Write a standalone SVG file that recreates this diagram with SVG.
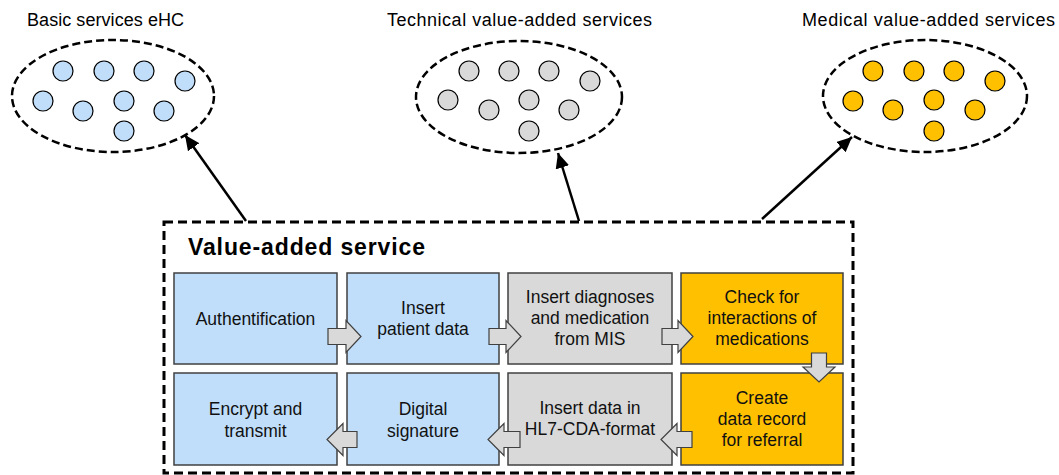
<svg xmlns="http://www.w3.org/2000/svg" width="1059" height="475" viewBox="0 0 1059 475">
<style>
.ttl{font-family:"Liberation Sans",Arial,sans-serif;font-size:18px;fill:#000}
.hd{font-family:"Liberation Sans",Arial,sans-serif;font-size:23px;font-weight:bold;fill:#000}
.bt{font-family:"Liberation Sans",Arial,sans-serif;font-size:17.5px;fill:#111;text-anchor:middle}
.ell{fill:none;stroke:#000;stroke-width:2.5;stroke-dasharray:8 4}
.blue{fill:#C0DEFA}
.gray{fill:#D9D9D9}
.orng{fill:#FFC000}
.dot{stroke:#000;stroke-width:1.2}
.box{stroke:#404040;stroke-width:1.5}
.blk{fill:#D9D9D9;stroke:#404040;stroke-width:1.2}
.con{stroke:#000;stroke-width:2.5;fill:none}
</style>
<defs>
<marker id="ah" markerUnits="userSpaceOnUse" markerWidth="16" markerHeight="14" refX="15" refY="7" orient="auto">
<path d="M0,0 L15,7 L0,14 z" fill="#000"/>
</marker>
</defs>

<g id="basic-services">
<text class="ttl" x="27" y="26" textLength="157">Basic services eHC</text>
<ellipse class="ell" cx="113" cy="96" rx="101" ry="56"/>
<g class="blue dot">
<circle cx="63" cy="71" r="10"/><circle cx="104" cy="71" r="10"/><circle cx="144" cy="71" r="10"/><circle cx="185" cy="81" r="10"/>
<circle cx="43" cy="101" r="10"/><circle cx="83" cy="111" r="10"/><circle cx="124" cy="101" r="10"/><circle cx="164" cy="111" r="10"/>
<circle cx="124" cy="131" r="10"/>
</g>
</g>

<g id="technical-services">
<text class="ttl" x="387" y="26" textLength="265">Technical value-added services</text>
<ellipse class="ell" cx="519" cy="97" rx="103" ry="56"/>
<g class="gray dot">
<circle cx="469" cy="71" r="10"/><circle cx="509" cy="71" r="10"/><circle cx="549" cy="71" r="10"/><circle cx="590" cy="81" r="10"/>
<circle cx="448" cy="100" r="10"/><circle cx="489" cy="110" r="10"/><circle cx="529" cy="100" r="10"/><circle cx="569" cy="110" r="10"/>
<circle cx="529" cy="131" r="10"/>
</g>
</g>

<g id="medical-services">
<text class="ttl" x="802" y="26" textLength="253">Medical value-added services</text>
<ellipse class="ell" cx="925" cy="96" rx="102" ry="56"/>
<g class="orng dot">
<circle cx="873" cy="71" r="10"/><circle cx="914" cy="71" r="10"/><circle cx="954" cy="71" r="10"/><circle cx="995" cy="81" r="10"/>
<circle cx="853" cy="101" r="10"/><circle cx="893" cy="110" r="10"/><circle cx="934" cy="100" r="10"/><circle cx="975" cy="110" r="10"/>
<circle cx="934" cy="131" r="10"/>
</g>
</g>

<g id="connectors">
<line class="con" x1="246" y1="221" x2="185" y2="135" marker-end="url(#ah)"/>
<line class="con" x1="579" y1="221" x2="558" y2="153" marker-end="url(#ah)"/>
<line class="con" x1="762" y1="219" x2="852" y2="137" marker-end="url(#ah)"/>
</g>

<g id="value-added-service">
<rect x="164" y="222" width="689" height="251" fill="none" stroke="#000" stroke-width="3" stroke-dasharray="9 5"/>
<text class="hd" x="188" y="255" textLength="237">Value-added service</text>
</g>

<g id="authentification">
<rect class="box blue" x="174" y="273" width="163" height="91"/>
<text class="bt" x="255.5" y="325">Authentification</text>
</g>
<g id="insert-patient-data">
<rect class="box blue" x="347" y="273" width="152" height="91"/>
<text class="bt" x="423" y="314">Insert</text>
<text class="bt" x="423" y="335">patient data</text>
</g>
<g id="insert-diagnoses">
<rect class="box gray" x="508" y="273" width="164" height="91"/>
<text class="bt" x="590" y="303">Insert diagnoses</text>
<text class="bt" x="590" y="324">and medication</text>
<text class="bt" x="590" y="345">from MIS</text>
</g>
<g id="check-interactions">
<rect class="box orng" x="681" y="273" width="162" height="91"/>
<text class="bt" x="762" y="303">Check for</text>
<text class="bt" x="762" y="324">interactions of</text>
<text class="bt" x="762" y="345">medications</text>
</g>
<g id="encrypt-transmit">
<rect class="box blue" x="174" y="373" width="163" height="92"/>
<text class="bt" x="255.5" y="415">Encrypt and</text>
<text class="bt" x="255.5" y="437">transmit</text>
</g>
<g id="digital-signature">
<rect class="box blue" x="347" y="373" width="152" height="92"/>
<text class="bt" x="423" y="415">Digital</text>
<text class="bt" x="423" y="437">signature</text>
</g>
<g id="insert-hl7">
<rect class="box gray" x="508" y="373" width="164" height="92"/>
<text class="bt" x="590" y="414">Insert data in</text>
<text class="bt" x="590" y="435">HL7-CDA-format</text>
</g>
<g id="create-record">
<rect class="box orng" x="681" y="373" width="162" height="92"/>
<text class="bt" x="762" y="404">Create</text>
<text class="bt" x="762" y="425">data record</text>
<text class="bt" x="762" y="446">for referral</text>
</g>

<g id="flow-arrows">
<path class="blk" d="M328,328.5 H346 V320.5 L361,336.5 L346,352.5 V344.5 H328 Z"/>
<path class="blk" d="M489,328.5 H506 V320.5 L521,336.5 L506,352.5 V344.5 H489 Z"/>
<path class="blk" d="M662,328.5 H678 V320.5 L693,336.5 L678,352.5 V344.5 H662 Z"/>
<path class="blk" d="M811.5,353 H826.5 V367 H835 L819,382 L803,367 H811.5 Z"/>
<path class="blk" d="M692,431.5 H677 V423.5 L661,439.5 L677,455.5 V447.5 H692 Z"/>
<path class="blk" d="M520,431.5 H504 V423.5 L488,439.5 L504,455.5 V447.5 H520 Z"/>
<path class="blk" d="M357,431.5 H343 V423.5 L327,439.5 L343,455.5 V447.5 H357 Z"/>
</g>
</svg>
